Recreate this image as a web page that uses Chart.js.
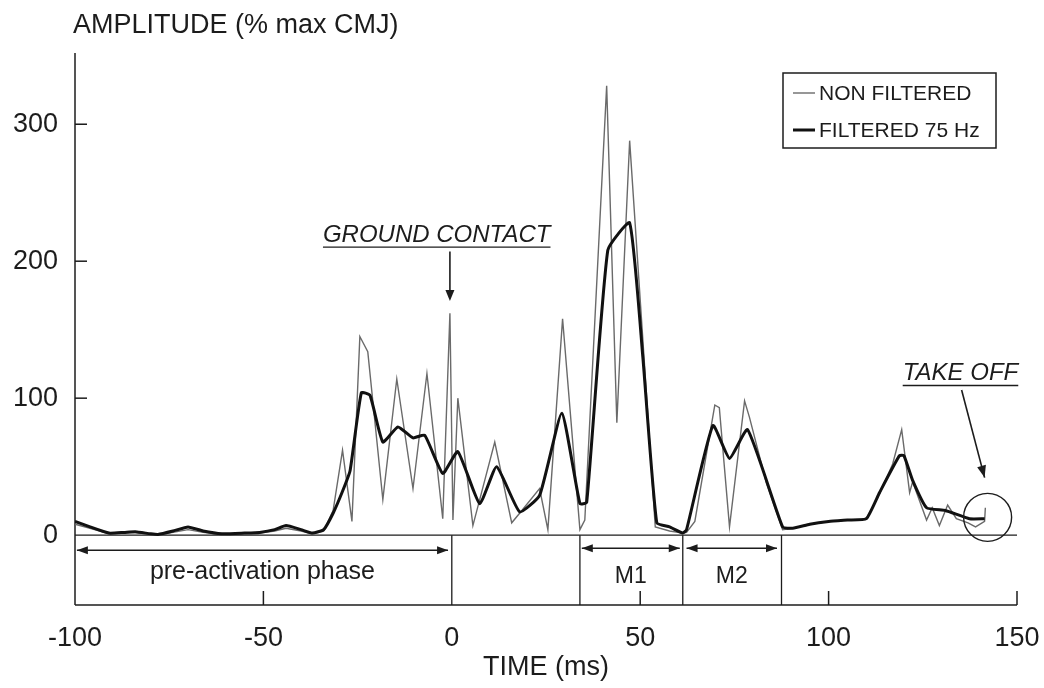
<!DOCTYPE html>
<html>
<head>
<meta charset="utf-8">
<title>EMG amplitude around ground contact</title>
<script src="https://cdn.jsdelivr.net/npm/chart.js@4.4.1/dist/chart.umd.min.js"></script>
<style>
  html, body { margin: 0; padding: 0; background: #fff; }
  #wrap { width: 1044px; height: 688px; }
</style>
</head>
<body>
<div id="wrap"><canvas id="chart" width="1044" height="688"></canvas></div>
<script>
// ---------------------------------------------------------------------------
// Data
// ---------------------------------------------------------------------------

const X_TICKS = [-100, -50, 0, 50, 100, 150];
const Y_TICKS = [0, 100, 200, 300];

// non filtered EMG (thin trace)
const rawTime = [-100, -96, -91, -87, -84, -80, -78, -74, -70, -66, -61, -55, -51, -47, -44,
  -40, -37, -34, -31.5, -29, -26.5, -24.4, -22.3, -18.3, -14.6, -10.3, -6.6, -2.4, -0.5, 0.3,
  1.6, 5.6, 11.4, 15.9, 18, 23.3, 25.5, 29.4, 34, 35.3, 41.1, 43.8, 47.2, 54, 57.8,
  61.3, 62.3, 64.5, 69.8, 71, 73.7, 77.7, 79, 83.5, 87.8, 90.5, 95, 100, 105, 110, 113.5,
  117, 119.4, 121.5, 122.3, 126, 127.5, 129.4, 131.6, 133.9, 137, 139, 141.4, 141.6];
const rawAmp = [8, 5, 1, 1.5, 2, 0.5, 0, 2, 4, 2, 0.5, 1, 1.5, 3, 5,
  3, 1, 3, 18, 62, 10, 145, 134, 26, 114, 34, 118, 12, 162, 11,
  100, 7, 68, 9, 16, 34, 4, 158, 4, 11, 328, 82, 288, 6, 3,
  1.5, 2, 10, 95, 93, 6, 98, 86, 38, 4, 5, 8, 10, 11, 12, 30,
  52, 77, 31, 39, 11, 20, 7, 22, 12, 9, 6, 10, 20];

// filtered 75 Hz (thick trace)
const filtTime = [-100, -96, -91, -87, -84, -80, -78, -74, -70, -66, -61, -55, -51, -47, -44,
  -40, -37, -34, -31.5, -29, -27, -24, -21.7, -18.3, -14.3, -10.3, -7.2, -2.4, 1.6, 7.4,
  11.9, 18, 23.3, 29.2, 34, 35.8, 41.4, 47.2, 50.7, 54.4, 57.8, 61.3, 62.3, 69.3, 73.7,
  78.5, 87.8, 90.5, 95, 100, 105, 110, 113.5, 118.8, 120, 122.3, 126, 131, 137.4, 141.4];
const filtAmp = [10, 6, 1.5, 2, 2.5, 1, 0.5, 3, 6, 3, 1, 1.5, 2, 4, 7,
  4, 1.5, 4, 16, 32, 47, 104, 102, 68, 79, 71, 73, 45, 61, 23,
  50, 17, 29, 89, 23, 24, 208, 228, 130, 9, 6, 1.5, 4, 80, 56,
  77, 6, 5, 8, 10, 11, 12, 31, 58, 58, 40, 20, 18, 12, 12];

// phase boundaries below the baseline (ms)
const PHASE_EDGES = [0, 34, 61.3, 87.5];
const PHASE_NAMES = ['pre-activation phase', 'M1', 'M2'];
const PHASE_FROM  = [-99.5, 34.5, 62.3];
const PHASE_TO    = [-1, 60.5, 86.3];

// ---------------------------------------------------------------------------
// Style
// ---------------------------------------------------------------------------

const INK = '#1c1c1c';
const THIN = '#6a6a6a';
const FONT = "'Liberation Sans', Arial, Helvetica, sans-serif";

function toPoints(xs, ys) {
  return xs.map((x, i) => ({ x, y: ys[i] }));
}

function seg(ctx, x1, y1, x2, y2) {
  ctx.beginPath();
  ctx.moveTo(x1, y1);
  ctx.lineTo(x2, y2);
  ctx.stroke();
}

// filled arrow head pointing from (x1,y1) towards (x2,y2)
function head(ctx, x1, y1, x2, y2, len = 10, half = 4) {
  const ang = Math.atan2(y2 - y1, x2 - x1);
  ctx.beginPath();
  ctx.moveTo(x2, y2);
  ctx.lineTo(x2 - len * Math.cos(ang) + half * Math.sin(ang), y2 - len * Math.sin(ang) - half * Math.cos(ang));
  ctx.lineTo(x2 - len * Math.cos(ang) - half * Math.sin(ang), y2 - len * Math.sin(ang) + half * Math.cos(ang));
  ctx.closePath();
  ctx.fill();
}

function underlined(ctx, text, cx, cy) {
  ctx.textAlign = 'center';
  ctx.textBaseline = 'middle';
  ctx.fillText(text, cx, cy);
  const w = ctx.measureText(text).width;
  ctx.lineWidth = 1.3;
  seg(ctx, cx - w / 2, cy + 12, cx + w / 2, cy + 12);
}

// ---------------------------------------------------------------------------
// Overlay: axes, baseline, phases, annotations, legend
// ---------------------------------------------------------------------------

const overlay = {
  id: 'overlay',
  beforeDatasetsDraw(chart) {
    const { ctx, chartArea: a, scales: { x, y } } = chart;
    const y0 = y.getPixelForValue(0);
    ctx.save();
    ctx.strokeStyle = INK;
    ctx.lineWidth = 1.5;

    // left + bottom axis only (open frame)
    seg(ctx, a.left, a.top, a.left, a.bottom);
    seg(ctx, a.left, a.bottom, a.right, a.bottom);

    // inward tick marks
    X_TICKS.forEach(t => {
      if (t === X_TICKS[0] || t === 0) return;
      const px = x.getPixelForValue(t);
      seg(ctx, px, a.bottom, px, a.bottom - 14);
    });
    Y_TICKS.forEach(v => {
      if (v === 0) return;
      const py = y.getPixelForValue(v);
      seg(ctx, a.left, py, a.left + 12, py);
    });

    // zero baseline
    ctx.lineWidth = 1.3;
    seg(ctx, a.left, y0, a.right, y0);

    // phase dividers
    PHASE_EDGES.forEach(t => {
      const px = x.getPixelForValue(t);
      seg(ctx, px, y0, px, a.bottom);
    });

    // double arrows + labels
    ctx.fillStyle = INK;
    ctx.textAlign = 'center';
    ctx.textBaseline = 'middle';
    PHASE_NAMES.forEach((name, i) => {
      const xa = x.getPixelForValue(PHASE_FROM[i]);
      const xb = x.getPixelForValue(PHASE_TO[i]);
      const ya = y.getPixelForValue(i === 0 ? -11 : -9.5);
      ctx.lineWidth = 1.5;
      seg(ctx, xa, ya, xb, ya);
      head(ctx, xb, ya, xa, ya, 11, 4);
      head(ctx, xa, ya, xb, ya, 11, 4);
      const ly = y.getPixelForValue(i === 0 ? -27 : -30);
      ctx.font = i === 0 ? `25px ${FONT}` : `23px ${FONT}`;
      ctx.fillText(name, (xa + xb) / 2, ly);
    });
    ctx.restore();
  },

  afterDatasetsDraw(chart) {
    const { ctx, chartArea: a, scales: { x, y } } = chart;
    ctx.save();
    ctx.fillStyle = INK;
    ctx.strokeStyle = INK;

    // y axis title, horizontal at top left
    ctx.font = `27px ${FONT}`;
    ctx.textAlign = 'left';
    ctx.textBaseline = 'middle';
    ctx.fillText('AMPLITUDE (% max CMJ)', a.left - 2, 26);

    // GROUND CONTACT
    ctx.font = `italic 24px ${FONT}`;
    underlined(ctx, 'GROUND CONTACT', x.getPixelForValue(-4), y.getPixelForValue(219));
    const gx = x.getPixelForValue(-0.5);
    ctx.lineWidth = 1.6;
    seg(ctx, gx, y.getPixelForValue(207), gx, y.getPixelForValue(174));
    head(ctx, gx, y.getPixelForValue(207), gx, y.getPixelForValue(171), 11, 4.5);

    // TAKE OFF
    ctx.font = `italic 24px ${FONT}`;
    underlined(ctx, 'TAKE OFF', x.getPixelForValue(135), y.getPixelForValue(118));
    const ax1 = x.getPixelForValue(135.3), ay1 = y.getPixelForValue(106);
    const ax2 = x.getPixelForValue(141.4), ay2 = y.getPixelForValue(42);
    ctx.lineWidth = 1.6;
    seg(ctx, ax1, ay1, ax2, ay2);
    head(ctx, ax1, ay1, ax2, ay2, 12, 4.5);

    // circle round the take off point
    ctx.lineWidth = 1.4;
    ctx.beginPath();
    ctx.arc(x.getPixelForValue(142.2), y.getPixelForValue(13), 24, 0, Math.PI * 2);
    ctx.stroke();

    // legend box
    const bx = a.right - 234, by = a.top + 20, bw = 213, bh = 75;
    ctx.fillStyle = '#fff';
    ctx.fillRect(bx, by, bw, bh);
    ctx.lineWidth = 1.5;
    ctx.strokeRect(bx, by, bw, bh);
    ctx.font = `21px ${FONT}`;
    ctx.textBaseline = 'middle';
    ctx.textAlign = 'left';
    chart.data.datasets.forEach((ds, i) => {
      const ry = by + 20 + i * 37;
      ctx.strokeStyle = ds.borderColor;
      ctx.lineWidth = ds.borderWidth;
      seg(ctx, bx + 10, ry, bx + 32, ry);
      ctx.fillStyle = INK;
      ctx.fillText(ds.label, bx + 36, ry + 1);
    });
    ctx.restore();
  },
};

// ---------------------------------------------------------------------------
// Chart
// ---------------------------------------------------------------------------

new Chart(document.getElementById('chart'), {
  type: 'line',
  data: {
    datasets: [
      {
        label: 'NON FILTERED',
        data: toPoints(rawTime, rawAmp),
        borderColor: THIN,
        borderWidth: 1.4,
        pointRadius: 0,
        tension: 0,
        order: 1,
      },
      {
        label: 'FILTERED 75 Hz',
        data: toPoints(filtTime, filtAmp),
        borderColor: '#111',
        borderWidth: 3,
        pointRadius: 0,
        tension: 0.15,
        borderJoinStyle: 'round',
        order: 0,
      },
    ],
  },
  options: {
    responsive: false,
    animation: false,
    layout: { padding: { top: 53, right: 27, left: 0, bottom: 0 } },
    plugins: {
      legend: { display: false },
      tooltip: { enabled: false },
    },
    scales: {
      x: {
        type: 'linear',
        min: -100,
        max: 150,
        afterBuildTicks: s => { s.ticks = X_TICKS.map(v => ({ value: v })); },
        afterFit: s => { s.height = 83; s.paddingLeft = 0; s.paddingRight = 0; },
        grid: { display: false, drawTicks: false },
        border: { display: false },
        ticks: {
          padding: 17,
          color: INK,
          font: { family: FONT, size: 27 },
          maxRotation: 0,
        },
        title: {
          display: true,
          text: 'TIME (ms)',
          color: INK,
          font: { family: FONT, size: 27 },
          padding: { top: 0, bottom: 4 },
        },
      },
      y: {
        type: 'linear',
        min: -51,
        max: 352,
        afterBuildTicks: s => { s.ticks = Y_TICKS.map(v => ({ value: v })); },
        afterFit: s => { s.width = 75; s.paddingTop = 0; s.paddingBottom = 0; },
        grid: { display: false, drawTicks: false },
        border: { display: false },
        ticks: {
          padding: 17,
          color: INK,
          font: { family: FONT, size: 27 },
        },
      },
    },
  },
  plugins: [overlay],
});
</script>
</body>
</html>
